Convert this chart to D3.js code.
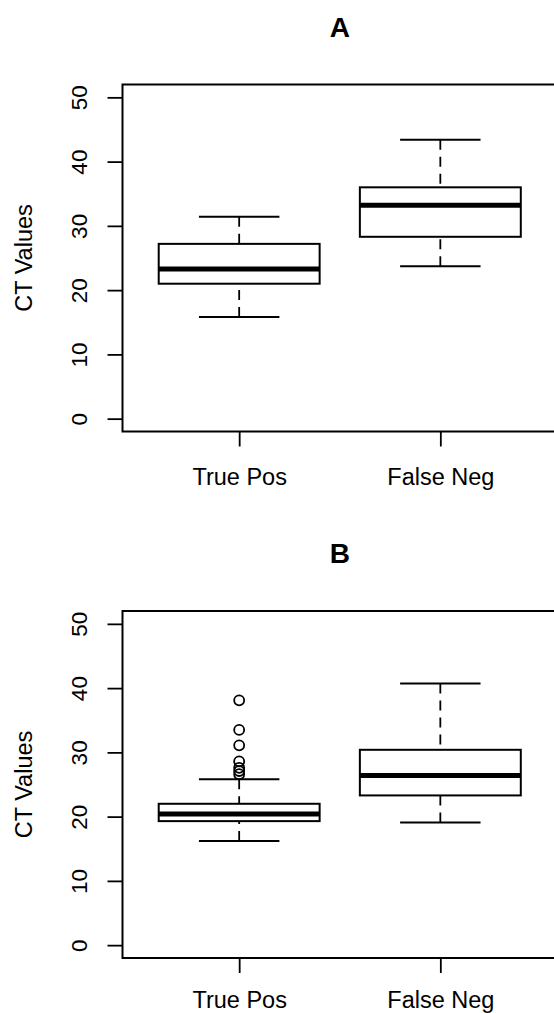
<html>
<style>
  body { margin: 0; background: #fff; }
  svg { display: block; font-family: "Liberation Sans", Arial, Helvetica, sans-serif; }
</style>
<script src="https://d3js.org/d3.v7.min.js"></script>
<body>
<svg id="chart" width="554" height="1013"></svg>
</body>
<script>
  // categories and tick labels
  const groups = ["True Pos", "False Neg"];
  const yTicks = [0, 10, 20, 30, 40, 50];

  // box stats: [lower whisker, Q1, median, Q3, upper whisker]
  const statsA = [
    [15.8, 21.0, 23.3, 27.2, 31.4],
    [23.7, 28.3, 33.2, 36.0, 43.4]
  ];
  const statsB = [
    [16.2, 19.3, 20.4, 22.0, 25.8],
    [19.1, 23.3, 26.4, 30.4, 40.7]
  ];
  const outliersA = [[], []];
  const outliersB = [[38.1, 33.5, 31.1, 28.6, 27.6, 27.1, 26.6], []];

  const svg = d3.select("#chart");
  const left = 122.5, right = 557;

  function drawPanel(title, stats, outliers, top, bottom, labelY) {
    const g = svg.append("g");
    // R style: positions 1..n, range extended by 4%
    const x = d3.scaleLinear().domain([0.42, 2.58]).range([left, right]);
    const y = d3.scaleLinear().domain([-2, 52]).range([bottom, top]);
    const boxW = x(1.4) - x(1);
    const capW = boxW / 2;

    // y axis
    const yAxis = g.append("g")
      .attr("transform", `translate(${left},0)`)
      .call(d3.axisLeft(y).tickValues(yTicks).tickSize(15).tickSizeOuter(0));
    yAxis.select(".domain").remove();
    yAxis.selectAll(".tick line").attr("stroke", "#000").attr("stroke-width", 1.8);
    yAxis.selectAll(".tick text")
      .attr("x", null).attr("dy", null)
      .attr("transform", "translate(-35.5,0) rotate(-90)")
      .attr("text-anchor", "middle")
      .attr("fill", "#000")
      .style("font-size", "22.5px");

    // x axis
    const xAxis = g.append("g")
      .attr("transform", `translate(0,${bottom})`)
      .call(d3.axisBottom(x).tickValues([1, 2]).tickSize(15).tickFormat((d, i) => groups[i]));
    xAxis.select(".domain").remove();
    xAxis.selectAll(".tick line").attr("stroke", "#000").attr("stroke-width", 1.8);
    xAxis.selectAll(".tick text")
      .attr("dy", null).attr("y", labelY)
      .attr("fill", "#000")
      .style("font-size", "23.5px");

    // frame
    g.append("rect")
      .attr("x", left).attr("y", top)
      .attr("width", right - left).attr("height", bottom - top)
      .attr("fill", "none").attr("stroke", "#000").attr("stroke-width", 2);

    // boxes
    stats.forEach((s, i) => {
      const cx = x(i + 1);
      const b = g.append("g");
      // whiskers from ends toward hinges, dashed
      [[s[0], s[1]], [s[4], s[3]]].forEach(([a, h]) => {
        b.append("line")
          .attr("x1", cx).attr("x2", cx)
          .attr("y1", y(a)).attr("y2", y(h))
          .attr("stroke", "#000").attr("stroke-width", 1.8)
          .attr("stroke-dasharray", "10,7");
        b.append("line")
          .attr("x1", cx - capW).attr("x2", cx + capW)
          .attr("y1", y(a)).attr("y2", y(a))
          .attr("stroke", "#000").attr("stroke-width", 2);
      });
      b.append("rect")
        .attr("x", cx - boxW).attr("y", y(s[3]))
        .attr("width", boxW * 2).attr("height", y(s[1]) - y(s[3]))
        .attr("fill", "#fff").attr("stroke", "#000").attr("stroke-width", 2);
      b.append("line")
        .attr("x1", cx - boxW).attr("x2", cx + boxW)
        .attr("y1", y(s[2])).attr("y2", y(s[2]))
        .attr("stroke", "#000").attr("stroke-width", 5);
      b.selectAll("circle").data(outliers[i]).enter().append("circle")
        .attr("cx", cx).attr("cy", d => y(d))
        .attr("r", 5)
        .attr("fill", "none").attr("stroke", "#000").attr("stroke-width", 1.8);
    });

    // y label
    g.append("text")
      .attr("transform", `translate(31.5,${(top + bottom) / 2}) rotate(-90)`)
      .attr("text-anchor", "middle")
      .style("font-size", "23.5px")
      .text("CT Values");

    // title
    g.append("text")
      .attr("x", (left + right) / 2).attr("y", top - 48)
      .attr("text-anchor", "middle")
      .style("font-size", "28px").style("font-weight", "bold")
      .text(title);
  }

  drawPanel("A", statsA, outliersA, 84.5, 431.5, 53.5);
  drawPanel("B", statsB, outliersB, 611, 958, 49.5);
</script>
</html>
